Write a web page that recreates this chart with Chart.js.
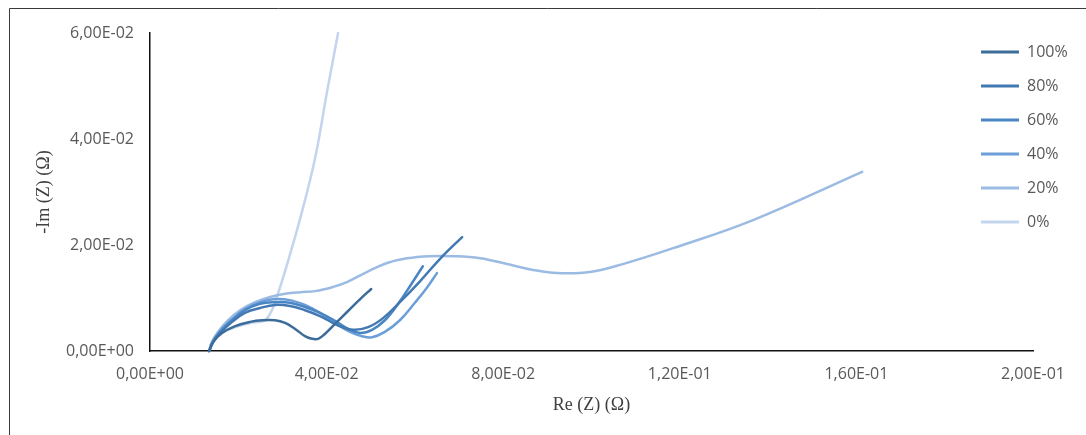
<!DOCTYPE html>
<html>
<head>
<meta charset="utf-8">
<script src="https://cdn.jsdelivr.net/npm/chart.js@4.4.1/dist/chart.umd.min.js"></script>
<style>
  html, body { margin: 0; padding: 0; background: #fff; }
  #wrap { width: 1086px; height: 435px; }
</style>
</head>
<body>
<div id="wrap"><canvas id="nyquist" width="1086" height="435"></canvas></div>
<script>
// Nyquist plot: Re(Z) vs -Im(Z), in ohms, one series per state of charge
const seriesNames = ['100%', '80%', '60%', '40%', '20%', '0%'];

const re100 = [0.0134, 0.0143, 0.0163, 0.0193, 0.0227, 0.0254, 0.0283, 0.0306, 0.0328, 0.0351, 0.0367, 0.0381, 0.0396, 0.0419, 0.0448, 0.0476, 0.0501];
const im100 = [0, 0.0017, 0.0034, 0.0047, 0.0055, 0.0058, 0.0058, 0.0053, 0.0042, 0.0028, 0.0023, 0.0023, 0.0032, 0.0051, 0.0075, 0.0098, 0.0117];

const re80 = [0.0134, 0.0143, 0.0159, 0.0186, 0.0215, 0.0249, 0.0283, 0.0317, 0.0351, 0.0385, 0.0424, 0.0460, 0.0494, 0.0528, 0.0566, 0.0612, 0.0657, 0.0707];
const im80 = [0, 0.0017, 0.0034, 0.0055, 0.0072, 0.0081, 0.0087, 0.0085, 0.0077, 0.0066, 0.0049, 0.0040, 0.0045, 0.0062, 0.0092, 0.0132, 0.0174, 0.0215];

const re60 = [0.0134, 0.0143, 0.0159, 0.0186, 0.0215, 0.0249, 0.0283, 0.0317, 0.0351, 0.0385, 0.0419, 0.0448, 0.0476, 0.0503, 0.0532, 0.0562, 0.0591, 0.0618];
const im60 = [0, 0.0017, 0.0036, 0.0058, 0.0077, 0.0089, 0.0092, 0.0091, 0.0083, 0.0072, 0.0057, 0.0042, 0.0034, 0.0040, 0.0058, 0.0089, 0.0125, 0.0160];

const re40 = [0.0134, 0.0143, 0.0159, 0.0186, 0.0215, 0.0249, 0.0283, 0.0317, 0.0351, 0.0385, 0.0419, 0.0453, 0.0480, 0.0503, 0.0532, 0.0566, 0.0600, 0.0625, 0.0650];
const im40 = [0, 0.0019, 0.0038, 0.0060, 0.0079, 0.0092, 0.0098, 0.0096, 0.0087, 0.0072, 0.0053, 0.0036, 0.0028, 0.0026, 0.0036, 0.0058, 0.0091, 0.0117, 0.0147];

const re20 = [0.0134, 0.0140, 0.0154, 0.0177, 0.0204, 0.0238, 0.0272, 0.0306, 0.0340, 0.0374, 0.0415, 0.0446, 0.0491, 0.0537, 0.0582, 0.0634, 0.0686, 0.0748, 0.0809, 0.0868, 0.0922, 0.0997, 0.1071, 0.1185, 0.1366, 0.1613];
const im20 = [0, 0.0017, 0.0036, 0.0058, 0.0077, 0.0092, 0.0102, 0.0108, 0.0111, 0.0113, 0.0121, 0.0130, 0.0149, 0.0166, 0.0175, 0.0179, 0.0179, 0.0175, 0.0164, 0.0153, 0.0147, 0.0149, 0.0164, 0.0194, 0.0247, 0.0338];

const re0 = [0.0134, 0.0140, 0.0159, 0.0193, 0.0227, 0.0258, 0.0272, 0.0285, 0.0315, 0.0344, 0.0374, 0.0401, 0.0426];
const im0 = [0, 0.0015, 0.0032, 0.0045, 0.0053, 0.0057, 0.0070, 0.0096, 0.0176, 0.0262, 0.0364, 0.0489, 0.0600];

const xTickValues = [0, 0.04, 0.08, 0.12, 0.16, 0.20];
const yTickValues = [0, 0.02, 0.04, 0.06];

const seriesRe = [re100, re80, re60, re40, re20, re0];
const seriesIm = [im100, im80, im60, im40, im20, im0];
const seriesColors = ['#3B6C9A', '#4379B3', '#4A85C4', '#6C9FD8', '#9BBBE3', '#C3D5EC'];

// Excel-style scientific labels: 6,00E-02
function sci(v) {
  if (Math.abs(v) < 1e-12) return '0,00E+00';
  const parts = v.toExponential(2).split('e');
  const exp = parseInt(parts[1], 10);
  return parts[0].replace('.', ',') + 'E' + (exp < 0 ? '-' : '+') + String(Math.abs(exp)).padStart(2, '0');
}

const datasets = seriesNames.map((name, i) => ({
  label: name,
  data: seriesRe[i].map((x, k) => ({ x: x, y: seriesIm[i][k] })),
  showLine: true,
  borderColor: seriesColors[i],
  backgroundColor: seriesColors[i],
  borderWidth: 2.5,
  pointRadius: 0,
  pointHoverRadius: 0,
  tension: 0.4,
  clip: false,
  borderCapStyle: 'round',
  borderJoinStyle: 'round'
}));

const tickFont = { family: '"Open Sans", "Liberation Sans", sans-serif', size: 16 };
const titleFont = { family: '"Liberation Serif", "Times New Roman", serif', size: 18 };

// outer frame of the figure
const framePlugin = {
  id: 'frame',
  beforeDraw(chart) {
    const ctx = chart.ctx;
    ctx.save();
    ctx.fillStyle = '#ffffff';
    ctx.fillRect(0, 0, chart.width, chart.height);
    ctx.strokeStyle = '#3a3a3a';
    ctx.lineWidth = 1;
    ctx.beginPath();
    ctx.moveTo(9.5, chart.height);
    ctx.lineTo(9.5, 8.5);
    ctx.lineTo(chart.width, 8.5);
    ctx.stroke();
    ctx.restore();
  }
};

// legend floats over the right end of the plot area
const legendPlacer = {
  id: 'legendPlacer',
  afterLayout(chart) {
    const lg = chart.legend;
    if (!lg) return;
    lg.left = 963;
    lg.right = 1086;
    lg.top = 26;
    lg.bottom = chart.chartArea.bottom;
  }
};

new Chart(document.getElementById('nyquist'), {
  type: 'scatter',
  data: { datasets: datasets },
  plugins: [framePlugin, legendPlacer],
  options: {
    responsive: false,
    animation: false,
    events: [],
    layout: { padding: { top: 33, right: 53, bottom: 0, left: 0 } },
    plugins: {
      tooltip: { enabled: false },
      legend: {
        position: 'chartArea',
        align: 'start',
        labels: {
          boxWidth: 38,
          boxHeight: 3,
          padding: 18,
          color: '#595959',
          font: tickFont,
          generateLabels(chart) {
            return chart.data.datasets.map((ds, i) => ({
              text: ds.label,
              fillStyle: ds.borderColor,
              strokeStyle: ds.borderColor,
              lineWidth: 0,
              hidden: false,
              datasetIndex: i,
              fontColor: '#595959'
            }));
          }
        }
      }
    },
    scales: {
      x: {
        type: 'linear',
        min: 0,
        max: 0.2,
        afterBuildTicks(scale) { scale.ticks = xTickValues.map(v => ({ value: v })); },
        afterFit(scale) { scale.height = 84; },
        grid: { display: false, drawTicks: false },
        border: { display: true, color: '#111111', width: 1.5 },
        ticks: {
          color: '#595959',
          font: tickFont,
          padding: 14,
          maxRotation: 0,
          autoSkip: false,
          callback: v => sci(v)
        },
        title: {
          display: true,
          text: 'Re (Z) (Ω)',
          color: '#404040',
          font: titleFont,
          padding: { top: 0, bottom: 19 }
        }
      },
      y: {
        type: 'linear',
        min: 0,
        max: 0.06,
        afterBuildTicks(scale) { scale.ticks = yTickValues.map(v => ({ value: v })); },
        afterFit(scale) { scale.width = 150; },
        grid: { display: false, drawTicks: false },
        border: { display: true, color: '#111111', width: 1.5 },
        ticks: {
          color: '#595959',
          font: tickFont,
          padding: 16,
          autoSkip: false,
          callback: v => sci(v)
        },
        title: {
          display: true,
          text: '-Im (Z) (Ω)',
          color: '#404040',
          font: titleFont,
          padding: { top: 33, bottom: 0 }
        }
      }
    }
  }
});
</script>
</body>
</html>
